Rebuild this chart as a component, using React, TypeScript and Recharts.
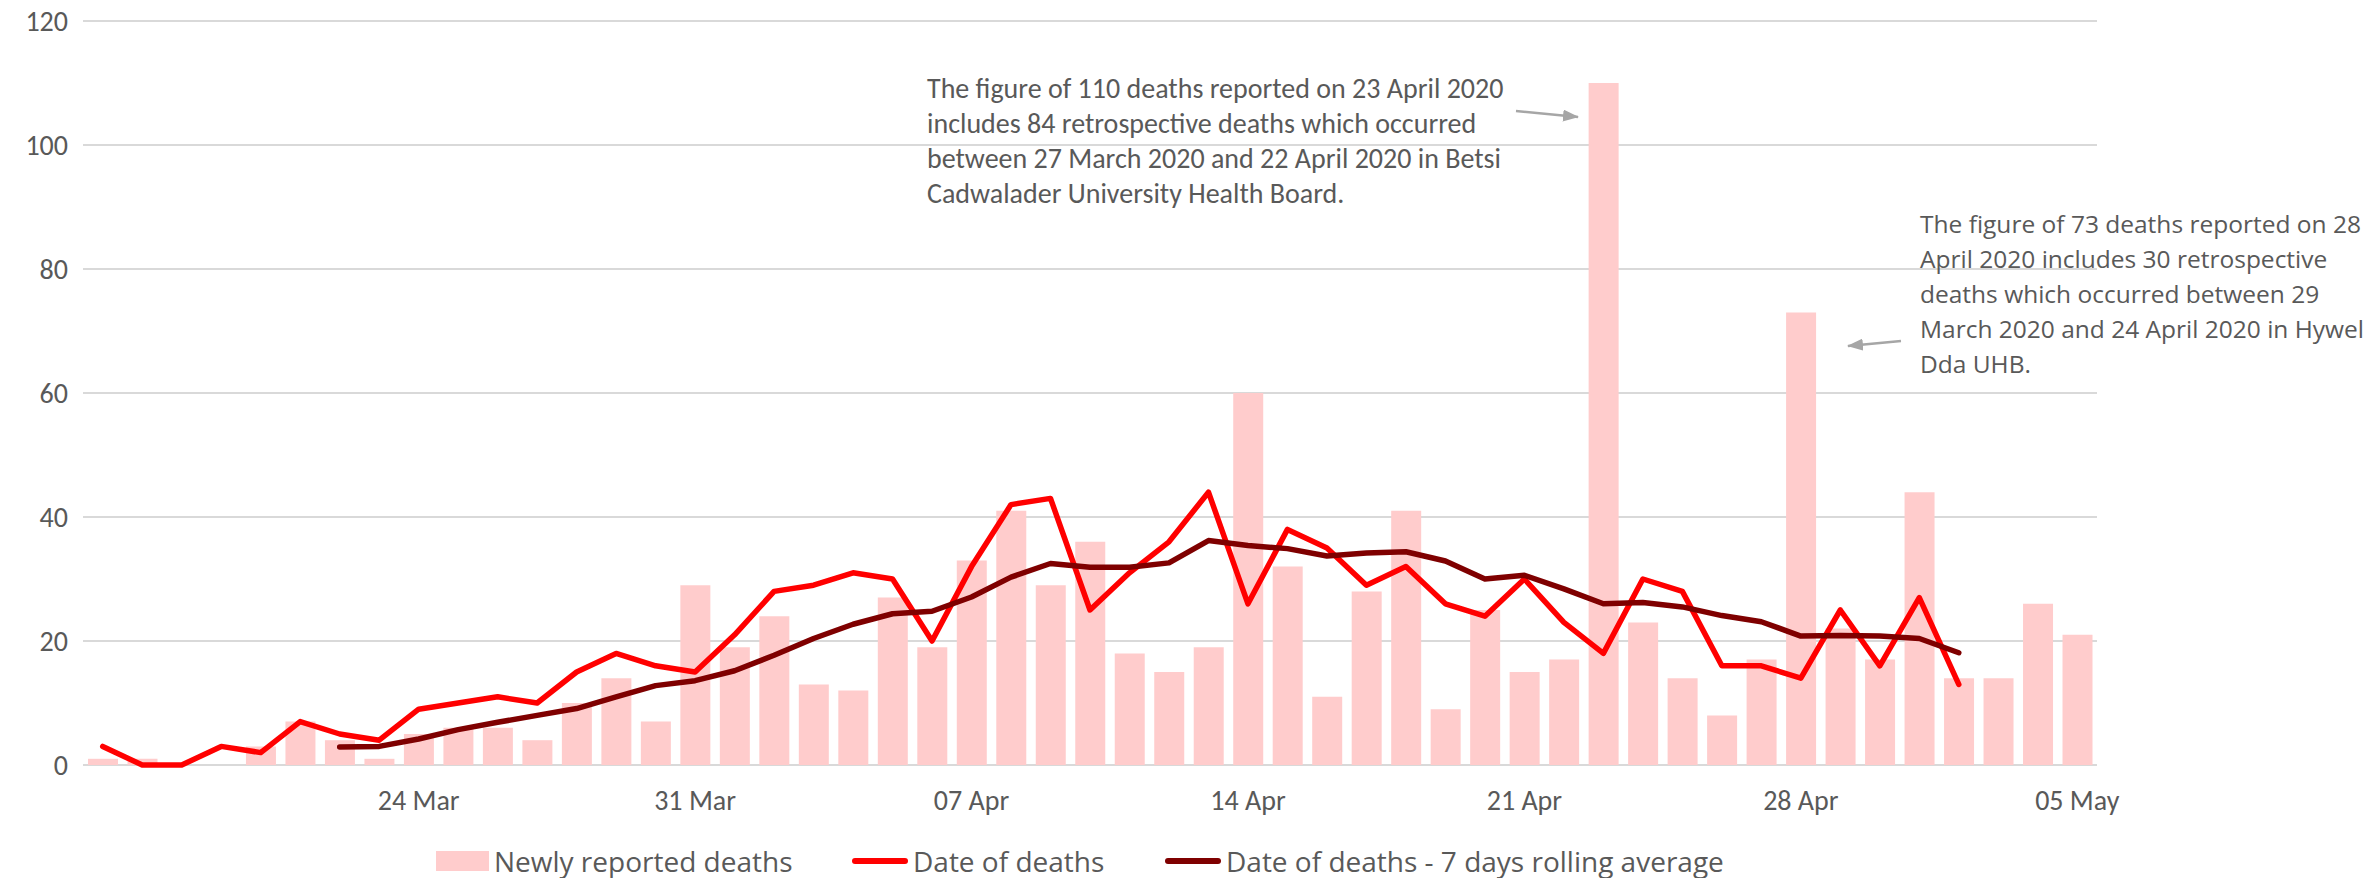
import React from 'react';
import { ComposedChart, Bar, Line, XAxis, YAxis, CartesianGrid, Legend } from 'recharts';

const dates = [
  '16 Mar', '17 Mar', '18 Mar', '19 Mar', '20 Mar', '21 Mar', '22 Mar', '23 Mar', '24 Mar', '25 Mar',
  '26 Mar', '27 Mar', '28 Mar', '29 Mar', '30 Mar', '31 Mar', '01 Apr', '02 Apr', '03 Apr', '04 Apr',
  '05 Apr', '06 Apr', '07 Apr', '08 Apr', '09 Apr', '10 Apr', '11 Apr', '12 Apr', '13 Apr', '14 Apr',
  '15 Apr', '16 Apr', '17 Apr', '18 Apr', '19 Apr', '20 Apr', '21 Apr', '22 Apr', '23 Apr', '24 Apr',
  '25 Apr', '26 Apr', '27 Apr', '28 Apr', '29 Apr', '30 Apr', '01 May', '02 May', '03 May', '04 May',
  '05 May',
];

const newlyReported = [
  1, 1, 0, 0, 3, 7, 4, 1, 5, 6,
  6, 4, 10, 14, 7, 29, 19, 24, 13, 12,
  27, 19, 33, 41, 29, 36, 18, 15, 19, 60,
  32, 11, 28, 41, 9, 25, 15, 17, 110, 23,
  14, 8, 17, 73, 22, 17, 44, 14, 14, 26,
  21,
];

const dateOfDeaths: (number | null)[] = [
  3, 0, 0, 3, 2, 7, 5, 4, 9, 10,
  11, 10, 15, 18, 16, 15, 21, 28, 29, 31,
  30, 20, 32, 42, 43, 25, 31, 36, 44, 26,
  38, 35, 29, 32, 26, 24, 30, 23, 18, 30,
  28, 16, 16, 14, 25, 16, 27, 13, null, null,
  null,
];

const rollingAverage: (number | null)[] = [
  null, null, null, null, null, null, 2.9, 3.0, 4.2, 5.7,
  6.9, 8.0, 9.1, 11.0, 12.8, 13.6, 15.2, 17.7, 20.4, 22.7,
  24.4, 24.8, 27.1, 30.3, 32.5, 31.9, 31.9, 32.6, 36.2, 35.4,
  34.9, 33.7, 34.2, 34.4, 32.9, 30.0, 30.6, 28.4, 26.0, 26.2,
  25.5, 24.1, 23.1, 20.8, 20.9, 20.8, 20.4, 18.1, null, null,
  null,
];

const tickLabels = ['24 Mar', '31 Mar', '07 Apr', '14 Apr', '21 Apr', '28 Apr', '05 May'];
const yTicks = [0, 20, 40, 60, 80, 100, 120];

const seriesNames = ['Newly reported deaths', 'Date of deaths', 'Date of deaths - 7 days rolling average'];

const note1 = [
  'The figure of 110 deaths reported on 23 April 2020',
  'includes 84 retrospective deaths which occurred',
  'between 27 March 2020 and 22 April 2020 in Betsi',
  'Cadwalader University Health Board.',
];
const note2 = [
  'The figure of 73 deaths reported on 28',
  'April 2020 includes 30 retrospective',
  'deaths which occurred between 29',
  'March 2020 and 24 April 2020 in Hywel',
  'Dda UHB.',
];

const data = dates.map((d, i) => ({
  date: d,
  newly: newlyReported[i],
  deaths: dateOfDeaths[i],
  rolling: rollingAverage[i],
}));

const W = 2374;
const H = 878;
const TEXT = '#595959';
const NARROW = "Carlito, Lato, 'Liberation Sans Narrow', sans-serif";
const WIDE = "'Open Sans', 'Noto Sans', sans-serif";

const renderLegend = () => {
  const items = [
    { left: 436, kind: 'bar', color: '#FFCCCC', label: seriesNames[0] },
    { left: 852, kind: 'line', color: '#FF0000', label: seriesNames[1] },
    { left: 1165, kind: 'line', color: '#7F0000', label: seriesNames[2] },
  ];
  return (
    <div style={{ position: 'relative', width: W, height: 50, fontFamily: WIDE, fontSize: 28, color: TEXT }}>
      {items.map((it) => (
        <div
          key={it.label}
          style={{ position: 'absolute', left: it.left, top: 16, height: 34, display: 'flex', alignItems: 'center', whiteSpace: 'nowrap' }}
        >
          {it.kind === 'bar' ? (
            <span style={{ display: 'inline-block', width: 53, height: 20, background: it.color }} />
          ) : (
            <span style={{ display: 'inline-block', width: 56, height: 6, borderRadius: 3, background: it.color }} />
          )}
          <span style={{ marginLeft: 5, lineHeight: '34px' }}>{it.label}</span>
        </div>
      ))}
    </div>
  );
};

export default function App() {
  return (
    <div style={{ position: 'absolute', left: 0, top: 0, width: W, height: H, background: '#fff' }}>
      <ComposedChart
        width={W}
        height={H}
        data={data}
        margin={{ top: 21, right: 277, bottom: 0, left: 0 }}
        barSize={30}
      >
        <CartesianGrid vertical={false} stroke="#D9D9D9" strokeWidth={2} />
        <XAxis
          dataKey="date"
          interval={0}
          axisLine={false}
          tickLine={false}
          tickSize={0}
          tickMargin={25}
          height={63}
          tickFormatter={(v: string) => (tickLabels.includes(v) ? v : '')}
          tick={{ fill: TEXT, fontSize: 28, fontFamily: NARROW }}
        />
        <YAxis
          width={83}
          domain={[0, 120]}
          ticks={yTicks}
          interval={0}
          axisLine={false}
          tickLine={false}
          tickSize={0}
          tickMargin={15}
          tick={{ fill: TEXT, fontSize: 28, fontFamily: NARROW }}
        />
        <Bar dataKey="newly" name={seriesNames[0]} fill="#FFCCCC" isAnimationActive={false} />
        <Line
          dataKey="deaths"
          name={seriesNames[1]}
          type="linear"
          stroke="#FF0000"
          strokeWidth={5.5}
          strokeLinecap="round"
          strokeLinejoin="round"
          dot={false}
          activeDot={false}
          isAnimationActive={false}
        />
        <Line
          dataKey="rolling"
          name={seriesNames[2]}
          type="linear"
          stroke="#7F0000"
          strokeWidth={5.5}
          strokeLinecap="round"
          strokeLinejoin="round"
          dot={false}
          activeDot={false}
          isAnimationActive={false}
        />
        <Legend verticalAlign="bottom" width={W} wrapperStyle={{ left: 0 }} content={renderLegend} />
      </ComposedChart>
      <svg width={W} height={H} style={{ position: 'absolute', left: 0, top: 0, pointerEvents: 'none' }}>
        <defs>
          <marker id="ah" markerWidth="16" markerHeight="12" refX="15" refY="6" orient="auto" markerUnits="userSpaceOnUse">
            <path d="M0,0 L16,6 L0,12 z" fill="#A6A6A6" />
          </marker>
        </defs>
        <g fontFamily={NARROW} fontSize={28} fill={TEXT}>
          {note1.map((t, i) => (
            <text key={i} x={927} y={98 + i * 35}>{t}</text>
          ))}
        </g>
        <g fontFamily={WIDE} fontSize={24.5} fill={TEXT}>
          {note2.map((t, i) => (
            <text key={i} x={1920} y={233 + i * 35}>{t}</text>
          ))}
        </g>
        <line x1={1516} y1={111} x2={1578} y2={117} stroke="#A6A6A6" strokeWidth={2.5} markerEnd="url(#ah)" />
        <line x1={1901} y1={341} x2={1848} y2={346} stroke="#A6A6A6" strokeWidth={2.5} markerEnd="url(#ah)" />
      </svg>
    </div>
  );
}
